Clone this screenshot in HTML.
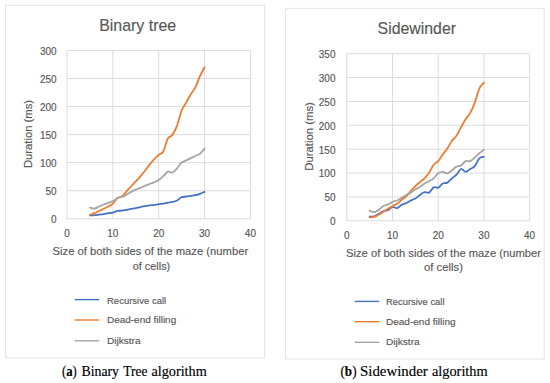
<!DOCTYPE html>
<html><head><meta charset="utf-8"><title>Figure</title>
<style>
html,body{margin:0;padding:0;background:#fff;}
body{width:550px;height:383px;overflow:hidden;font-family:"Liberation Sans",sans-serif;}
svg{display:block;}
svg text{font-family:"Liberation Sans",sans-serif;stroke:#595959;stroke-width:0.16px;}
svg text.cap{font-family:"Liberation Serif",serif;stroke:#000;stroke-width:0.15px;}
</style></head><body>
<svg width="550" height="383" viewBox="0 0 550 383">
<rect x="0" y="0" width="550" height="383" fill="#ffffff"/>
<rect x="5.6" y="5.4" width="259.0" height="352.4" fill="#fff" stroke="#E5E5E5" stroke-width="1.1"/>
<line x1="67.00" y1="218.80" x2="250.40" y2="218.80" stroke="#DCDCDC" stroke-width="1"/>
<text x="56.6" y="223.2" text-anchor="end" font-size="10.0" fill="#595959">0</text>
<line x1="67.00" y1="190.73" x2="250.40" y2="190.73" stroke="#DCDCDC" stroke-width="1"/>
<text x="56.6" y="195.1" text-anchor="end" font-size="10.0" fill="#595959">50</text>
<line x1="67.00" y1="162.67" x2="250.40" y2="162.67" stroke="#DCDCDC" stroke-width="1"/>
<text x="56.6" y="167.1" text-anchor="end" font-size="10.0" fill="#595959">100</text>
<line x1="67.00" y1="134.60" x2="250.40" y2="134.60" stroke="#DCDCDC" stroke-width="1"/>
<text x="56.6" y="139.0" text-anchor="end" font-size="10.0" fill="#595959">150</text>
<line x1="67.00" y1="106.53" x2="250.40" y2="106.53" stroke="#DCDCDC" stroke-width="1"/>
<text x="56.6" y="110.9" text-anchor="end" font-size="10.0" fill="#595959">200</text>
<line x1="67.00" y1="78.47" x2="250.40" y2="78.47" stroke="#DCDCDC" stroke-width="1"/>
<text x="56.6" y="82.9" text-anchor="end" font-size="10.0" fill="#595959">250</text>
<line x1="67.00" y1="50.40" x2="250.40" y2="50.40" stroke="#DCDCDC" stroke-width="1"/>
<text x="56.6" y="54.8" text-anchor="end" font-size="10.0" fill="#595959">300</text>
<line x1="67.00" y1="50.40" x2="67.00" y2="218.80" stroke="#DCDCDC" stroke-width="1"/>
<text x="67.0" y="237.0" text-anchor="middle" font-size="10.0" fill="#595959">0</text>
<line x1="112.85" y1="50.40" x2="112.85" y2="218.80" stroke="#DCDCDC" stroke-width="1"/>
<text x="112.8" y="237.0" text-anchor="middle" font-size="10.0" fill="#595959">10</text>
<line x1="158.70" y1="50.40" x2="158.70" y2="218.80" stroke="#DCDCDC" stroke-width="1"/>
<text x="158.7" y="237.0" text-anchor="middle" font-size="10.0" fill="#595959">20</text>
<line x1="204.55" y1="50.40" x2="204.55" y2="218.80" stroke="#DCDCDC" stroke-width="1"/>
<text x="204.6" y="237.0" text-anchor="middle" font-size="10.0" fill="#595959">30</text>
<line x1="250.40" y1="50.40" x2="250.40" y2="218.80" stroke="#DCDCDC" stroke-width="1"/>
<text x="250.4" y="237.0" text-anchor="middle" font-size="10.0" fill="#595959">40</text>
<path d="M89.92,215.43 C90.69,215.39 92.98,215.29 94.51,215.15 C96.04,215.01 97.57,214.78 99.09,214.59 C100.62,214.40 102.15,214.26 103.68,214.03 C105.21,213.79 106.74,213.42 108.27,213.19 C109.79,212.95 111.32,213.00 112.85,212.63 C114.38,212.25 115.91,211.27 117.44,210.94 C118.96,210.61 120.49,210.85 122.02,210.66 C123.55,210.47 125.08,210.10 126.60,209.82 C128.13,209.54 129.66,209.26 131.19,208.98 C132.72,208.70 134.25,208.46 135.78,208.13 C137.30,207.81 138.83,207.34 140.36,207.01 C141.89,206.68 143.42,206.45 144.94,206.17 C146.47,205.89 148.00,205.52 149.53,205.33 C151.06,205.14 152.59,205.23 154.12,205.05 C155.64,204.86 157.17,204.44 158.70,204.21 C160.23,203.97 161.76,203.92 163.28,203.64 C164.81,203.36 166.34,202.80 167.87,202.52 C169.40,202.24 170.93,202.29 172.45,201.96 C173.98,201.63 175.51,201.35 177.04,200.56 C178.57,199.76 180.10,197.84 181.62,197.19 C183.15,196.53 184.68,196.86 186.21,196.63 C187.74,196.39 189.27,196.02 190.80,195.79 C192.32,195.55 193.85,195.55 195.38,195.22 C196.91,194.90 198.44,194.38 199.97,193.82 C201.49,193.26 203.79,192.18 204.55,191.86" fill="none" stroke="#4472C4" stroke-width="1.8" stroke-linecap="round" stroke-linejoin="round"/>
<path d="M89.92,214.87 C90.69,214.59 92.98,213.84 94.51,213.19 C96.04,212.53 97.57,211.69 99.09,210.94 C100.62,210.19 102.15,209.44 103.68,208.70 C105.21,207.95 106.74,207.29 108.27,206.45 C109.79,205.61 111.32,205.05 112.85,203.64 C114.38,202.24 115.91,199.25 117.44,198.03 C118.96,196.81 120.49,197.47 122.02,196.35 C123.55,195.22 125.08,192.98 126.60,191.29 C128.13,189.61 129.66,187.88 131.19,186.24 C132.72,184.61 134.25,183.11 135.78,181.47 C137.30,179.83 138.83,178.20 140.36,176.42 C141.89,174.64 143.42,172.77 144.94,170.81 C146.47,168.84 148.00,166.55 149.53,164.63 C151.06,162.71 152.59,160.94 154.12,159.30 C155.64,157.66 157.17,156.12 158.70,154.81 C160.23,153.50 161.76,154.15 163.28,151.44 C164.81,148.73 166.34,141.29 167.87,138.53 C169.40,135.77 170.93,137.03 172.45,134.88 C173.98,132.73 175.51,129.69 177.04,125.62 C178.57,121.55 180.10,114.30 181.62,110.46 C183.15,106.63 184.68,105.32 186.21,102.60 C187.74,99.89 189.27,96.71 190.80,94.18 C192.32,91.66 193.85,90.44 195.38,87.45 C196.91,84.45 198.44,79.59 199.97,76.22 C201.49,72.85 203.79,68.74 204.55,67.24" fill="none" stroke="#ED7D31" stroke-width="1.8" stroke-linecap="round" stroke-linejoin="round"/>
<path d="M89.92,207.57 C90.69,207.76 92.98,208.88 94.51,208.70 C96.04,208.51 97.57,207.15 99.09,206.45 C100.62,205.75 102.15,205.09 103.68,204.49 C105.21,203.88 106.74,203.36 108.27,202.80 C109.79,202.24 111.32,201.91 112.85,201.12 C114.38,200.32 115.91,198.73 117.44,198.03 C118.96,197.33 120.49,197.47 122.02,196.91 C123.55,196.35 125.08,195.50 126.60,194.66 C128.13,193.82 129.66,192.70 131.19,191.86 C132.72,191.01 134.25,190.27 135.78,189.61 C137.30,188.96 138.83,188.58 140.36,187.93 C141.89,187.27 143.42,186.34 144.94,185.68 C146.47,185.03 148.00,184.56 149.53,184.00 C151.06,183.44 152.59,182.97 154.12,182.31 C155.64,181.66 157.17,181.10 158.70,180.07 C160.23,179.04 161.76,177.54 163.28,176.14 C164.81,174.74 166.34,172.26 167.87,171.65 C169.40,171.04 170.93,173.05 172.45,172.49 C173.98,171.93 175.51,169.92 177.04,168.28 C178.57,166.64 180.10,163.98 181.62,162.67 C183.15,161.36 184.68,161.17 186.21,160.42 C187.74,159.67 189.27,158.92 190.80,158.18 C192.32,157.43 193.85,156.68 195.38,155.93 C196.91,155.18 198.44,154.90 199.97,153.69 C201.49,152.47 203.79,149.48 204.55,148.63" fill="none" stroke="#A5A5A5" stroke-width="1.8" stroke-linecap="round" stroke-linejoin="round"/>
<text x="99.2" y="31.0" font-size="16.2" fill="#595959" textLength="77.0" lengthAdjust="spacingAndGlyphs">Binary tree</text>
<text transform="translate(32.2,168.1) rotate(-90)" font-size="11.0" fill="#595959" textLength="68.2" lengthAdjust="spacingAndGlyphs">Duration (ms)</text>
<text x="52.5" y="255.0" font-size="11.1" fill="#595959" textLength="195.7" lengthAdjust="spacingAndGlyphs">Size of both sides of the maze (number</text>
<text x="132.8" y="270.0" font-size="11.1" fill="#595959" textLength="37.4" lengthAdjust="spacingAndGlyphs">of cells)</text>
<line x1="74.7" y1="299.6" x2="99.2" y2="299.6" stroke="#4472C4" stroke-width="1.4"/>
<text x="107.0" y="303.7" font-size="9.9" fill="#595959" textLength="59.2" lengthAdjust="spacingAndGlyphs">Recursive call</text>
<line x1="74.7" y1="320.0" x2="99.2" y2="320.0" stroke="#ED7D31" stroke-width="1.4"/>
<text x="107.0" y="322.9" font-size="9.9" fill="#595959" textLength="69.2" lengthAdjust="spacingAndGlyphs">Dead-end filling</text>
<line x1="74.7" y1="340.8" x2="99.2" y2="340.8" stroke="#A5A5A5" stroke-width="1.4"/>
<text x="107.0" y="343.9" font-size="9.9" fill="#595959" textLength="33.5" lengthAdjust="spacingAndGlyphs">Dijkstra</text>
<rect x="285.6" y="8.4" width="258.6" height="350.6" fill="#fff" stroke="#E5E5E5" stroke-width="1.1"/>
<line x1="346.80" y1="220.80" x2="529.60" y2="220.80" stroke="#DCDCDC" stroke-width="1"/>
<text x="335.5" y="225.1" text-anchor="end" font-size="10.0" fill="#595959">0</text>
<line x1="346.80" y1="196.93" x2="529.60" y2="196.93" stroke="#DCDCDC" stroke-width="1"/>
<text x="335.5" y="201.2" text-anchor="end" font-size="10.0" fill="#595959">50</text>
<line x1="346.80" y1="173.06" x2="529.60" y2="173.06" stroke="#DCDCDC" stroke-width="1"/>
<text x="335.5" y="177.4" text-anchor="end" font-size="10.0" fill="#595959">100</text>
<line x1="346.80" y1="149.19" x2="529.60" y2="149.19" stroke="#DCDCDC" stroke-width="1"/>
<text x="335.5" y="153.5" text-anchor="end" font-size="10.0" fill="#595959">150</text>
<line x1="346.80" y1="125.31" x2="529.60" y2="125.31" stroke="#DCDCDC" stroke-width="1"/>
<text x="335.5" y="129.6" text-anchor="end" font-size="10.0" fill="#595959">200</text>
<line x1="346.80" y1="101.44" x2="529.60" y2="101.44" stroke="#DCDCDC" stroke-width="1"/>
<text x="335.5" y="105.7" text-anchor="end" font-size="10.0" fill="#595959">250</text>
<line x1="346.80" y1="77.57" x2="529.60" y2="77.57" stroke="#DCDCDC" stroke-width="1"/>
<text x="335.5" y="81.9" text-anchor="end" font-size="10.0" fill="#595959">300</text>
<line x1="346.80" y1="53.70" x2="529.60" y2="53.70" stroke="#DCDCDC" stroke-width="1"/>
<text x="335.5" y="58.0" text-anchor="end" font-size="10.0" fill="#595959">350</text>
<line x1="346.80" y1="53.70" x2="346.80" y2="220.80" stroke="#DCDCDC" stroke-width="1"/>
<text x="346.8" y="239.3" text-anchor="middle" font-size="10.0" fill="#595959">0</text>
<line x1="392.50" y1="53.70" x2="392.50" y2="220.80" stroke="#DCDCDC" stroke-width="1"/>
<text x="392.5" y="239.3" text-anchor="middle" font-size="10.0" fill="#595959">10</text>
<line x1="438.20" y1="53.70" x2="438.20" y2="220.80" stroke="#DCDCDC" stroke-width="1"/>
<text x="438.2" y="239.3" text-anchor="middle" font-size="10.0" fill="#595959">20</text>
<line x1="483.90" y1="53.70" x2="483.90" y2="220.80" stroke="#DCDCDC" stroke-width="1"/>
<text x="483.9" y="239.3" text-anchor="middle" font-size="10.0" fill="#595959">30</text>
<line x1="529.60" y1="53.70" x2="529.60" y2="220.80" stroke="#DCDCDC" stroke-width="1"/>
<text x="529.6" y="239.3" text-anchor="middle" font-size="10.0" fill="#595959">40</text>
<path d="M369.65,216.74 C370.41,216.66 372.70,216.74 374.22,216.26 C375.74,215.79 377.27,214.75 378.79,213.88 C380.31,213.00 381.84,211.61 383.36,211.01 C384.88,210.42 386.41,210.97 387.93,210.30 C389.45,209.62 390.98,207.31 392.50,206.95 C394.02,206.60 395.55,208.51 397.07,208.15 C398.59,207.79 400.12,205.64 401.64,204.81 C403.16,203.97 404.69,203.85 406.21,203.14 C407.73,202.42 409.26,201.27 410.78,200.51 C412.30,199.75 413.83,199.51 415.35,198.60 C416.87,197.68 418.40,196.09 419.92,195.02 C421.44,193.94 422.97,192.55 424.49,192.15 C426.01,191.76 427.54,193.43 429.06,192.63 C430.58,191.84 432.11,188.22 433.63,187.38 C435.15,186.54 436.68,188.26 438.20,187.62 C439.72,186.98 441.25,184.40 442.77,183.56 C444.29,182.73 445.82,183.48 447.34,182.61 C448.86,181.73 450.39,179.62 451.91,178.31 C453.43,177.00 454.96,176.28 456.48,174.73 C458.00,173.18 459.53,169.48 461.05,169.00 C462.57,168.52 464.10,171.86 465.62,171.86 C467.14,171.86 468.67,169.95 470.19,169.00 C471.71,168.04 473.24,167.92 474.76,166.13 C476.28,164.34 477.81,159.81 479.33,158.26 C480.85,156.71 483.14,157.06 483.90,156.82" fill="none" stroke="#4472C4" stroke-width="1.8" stroke-linecap="round" stroke-linejoin="round"/>
<path d="M369.65,217.46 C370.41,217.38 372.70,217.46 374.22,216.98 C375.74,216.50 377.27,215.47 378.79,214.59 C380.31,213.72 381.84,212.68 383.36,211.73 C384.88,210.77 386.41,209.82 387.93,208.86 C389.45,207.91 390.98,206.84 392.50,206.00 C394.02,205.16 395.55,204.89 397.07,203.85 C398.59,202.82 400.12,201.03 401.64,199.79 C403.16,198.56 404.69,197.88 406.21,196.45 C407.73,195.02 409.26,192.91 410.78,191.20 C412.30,189.49 413.83,187.70 415.35,186.19 C416.87,184.67 418.40,183.44 419.92,182.13 C421.44,180.82 422.97,179.86 424.49,178.31 C426.01,176.76 427.54,175.09 429.06,172.82 C430.58,170.55 432.11,166.65 433.63,164.70 C435.15,162.75 436.68,162.83 438.20,161.12 C439.72,159.41 441.25,156.55 442.77,154.44 C444.29,152.33 445.82,150.74 447.34,148.47 C448.86,146.20 450.39,142.94 451.91,140.83 C453.43,138.72 454.96,138.09 456.48,135.82 C458.00,133.55 459.53,129.97 461.05,127.22 C462.57,124.48 464.10,121.73 465.62,119.35 C467.14,116.96 468.67,115.65 470.19,112.90 C471.71,110.16 473.24,106.93 474.76,102.88 C476.28,98.82 477.81,91.89 479.33,88.55 C480.85,85.21 483.14,83.78 483.90,82.82" fill="none" stroke="#ED7D31" stroke-width="1.8" stroke-linecap="round" stroke-linejoin="round"/>
<path d="M369.65,210.77 C370.41,211.01 372.70,212.37 374.22,212.21 C375.74,212.05 377.27,210.85 378.79,209.82 C380.31,208.78 381.84,206.88 383.36,206.00 C384.88,205.12 386.41,205.24 387.93,204.57 C389.45,203.89 390.98,202.62 392.50,201.94 C394.02,201.27 395.55,201.19 397.07,200.51 C398.59,199.83 400.12,198.80 401.64,197.88 C403.16,196.97 404.69,195.89 406.21,195.02 C407.73,194.14 409.26,193.59 410.78,192.63 C412.30,191.68 413.83,190.24 415.35,189.29 C416.87,188.33 418.40,187.86 419.92,186.90 C421.44,185.95 422.97,184.52 424.49,183.56 C426.01,182.61 427.54,182.05 429.06,181.17 C430.58,180.30 432.11,179.62 433.63,178.31 C435.15,177.00 436.68,174.37 438.20,173.30 C439.72,172.22 441.25,171.86 442.77,171.86 C444.29,171.86 445.82,173.53 447.34,173.30 C448.86,173.06 450.39,171.55 451.91,170.43 C453.43,169.32 454.96,167.45 456.48,166.61 C458.00,165.78 459.53,166.33 461.05,165.42 C462.57,164.50 464.10,161.84 465.62,161.12 C467.14,160.41 468.67,161.72 470.19,161.12 C471.71,160.52 473.24,158.85 474.76,157.54 C476.28,156.23 477.81,154.56 479.33,153.24 C480.85,151.93 483.14,150.26 483.90,149.66" fill="none" stroke="#A5A5A5" stroke-width="1.8" stroke-linecap="round" stroke-linejoin="round"/>
<text x="377.6" y="34.0" font-size="16.2" fill="#595959" textLength="78.4" lengthAdjust="spacingAndGlyphs">Sidewinder</text>
<text transform="translate(312.9,170.7) rotate(-90)" font-size="11.0" fill="#595959" textLength="68.5" lengthAdjust="spacingAndGlyphs">Duration (ms)</text>
<text x="346.0" y="257.0" font-size="11.1" fill="#595959" textLength="195.0" lengthAdjust="spacingAndGlyphs">Size of both sides of the maze (number</text>
<text x="424.0" y="271.3" font-size="11.1" fill="#595959" textLength="39.0" lengthAdjust="spacingAndGlyphs">of cells)</text>
<line x1="354.7" y1="301.4" x2="379.3" y2="301.4" stroke="#4472C4" stroke-width="1.4"/>
<text x="386.0" y="304.8" font-size="9.9" fill="#595959" textLength="58.5" lengthAdjust="spacingAndGlyphs">Recursive call</text>
<line x1="354.7" y1="321.7" x2="379.3" y2="321.7" stroke="#ED7D31" stroke-width="1.4"/>
<text x="386.0" y="324.5" font-size="9.9" fill="#595959" textLength="69.6" lengthAdjust="spacingAndGlyphs">Dead-end filling</text>
<line x1="354.7" y1="342.3" x2="379.3" y2="342.3" stroke="#A5A5A5" stroke-width="1.4"/>
<text x="386.0" y="344.7" font-size="9.9" fill="#595959" textLength="33.6" lengthAdjust="spacingAndGlyphs">Dijkstra</text>
<text class="cap" x="62.0" y="376.1" font-size="14" fill="#000" textLength="14.8" lengthAdjust="spacingAndGlyphs">(<tspan font-weight="bold">a</tspan>)</text>
<text class="cap" x="81.5" y="376.1" font-size="14" fill="#000" textLength="37.5" lengthAdjust="spacingAndGlyphs">Binary</text>
<text class="cap" x="123.2" y="376.1" font-size="14" fill="#000" textLength="24.2" lengthAdjust="spacingAndGlyphs">Tree</text>
<text class="cap" x="151.4" y="376.1" font-size="14" fill="#000" textLength="55.4" lengthAdjust="spacingAndGlyphs">algorithm</text>
<text class="cap" x="340.5" y="375.9" font-size="14" fill="#000" textLength="16.0" lengthAdjust="spacingAndGlyphs">(<tspan font-weight="bold">b</tspan>)</text>
<text class="cap" x="360.0" y="375.9" font-size="14" fill="#000" textLength="67.7" lengthAdjust="spacingAndGlyphs">Sidewinder</text>
<text class="cap" x="431.9" y="375.9" font-size="14" fill="#000" textLength="55.8" lengthAdjust="spacingAndGlyphs">algorithm</text>
</svg>
</body></html>
